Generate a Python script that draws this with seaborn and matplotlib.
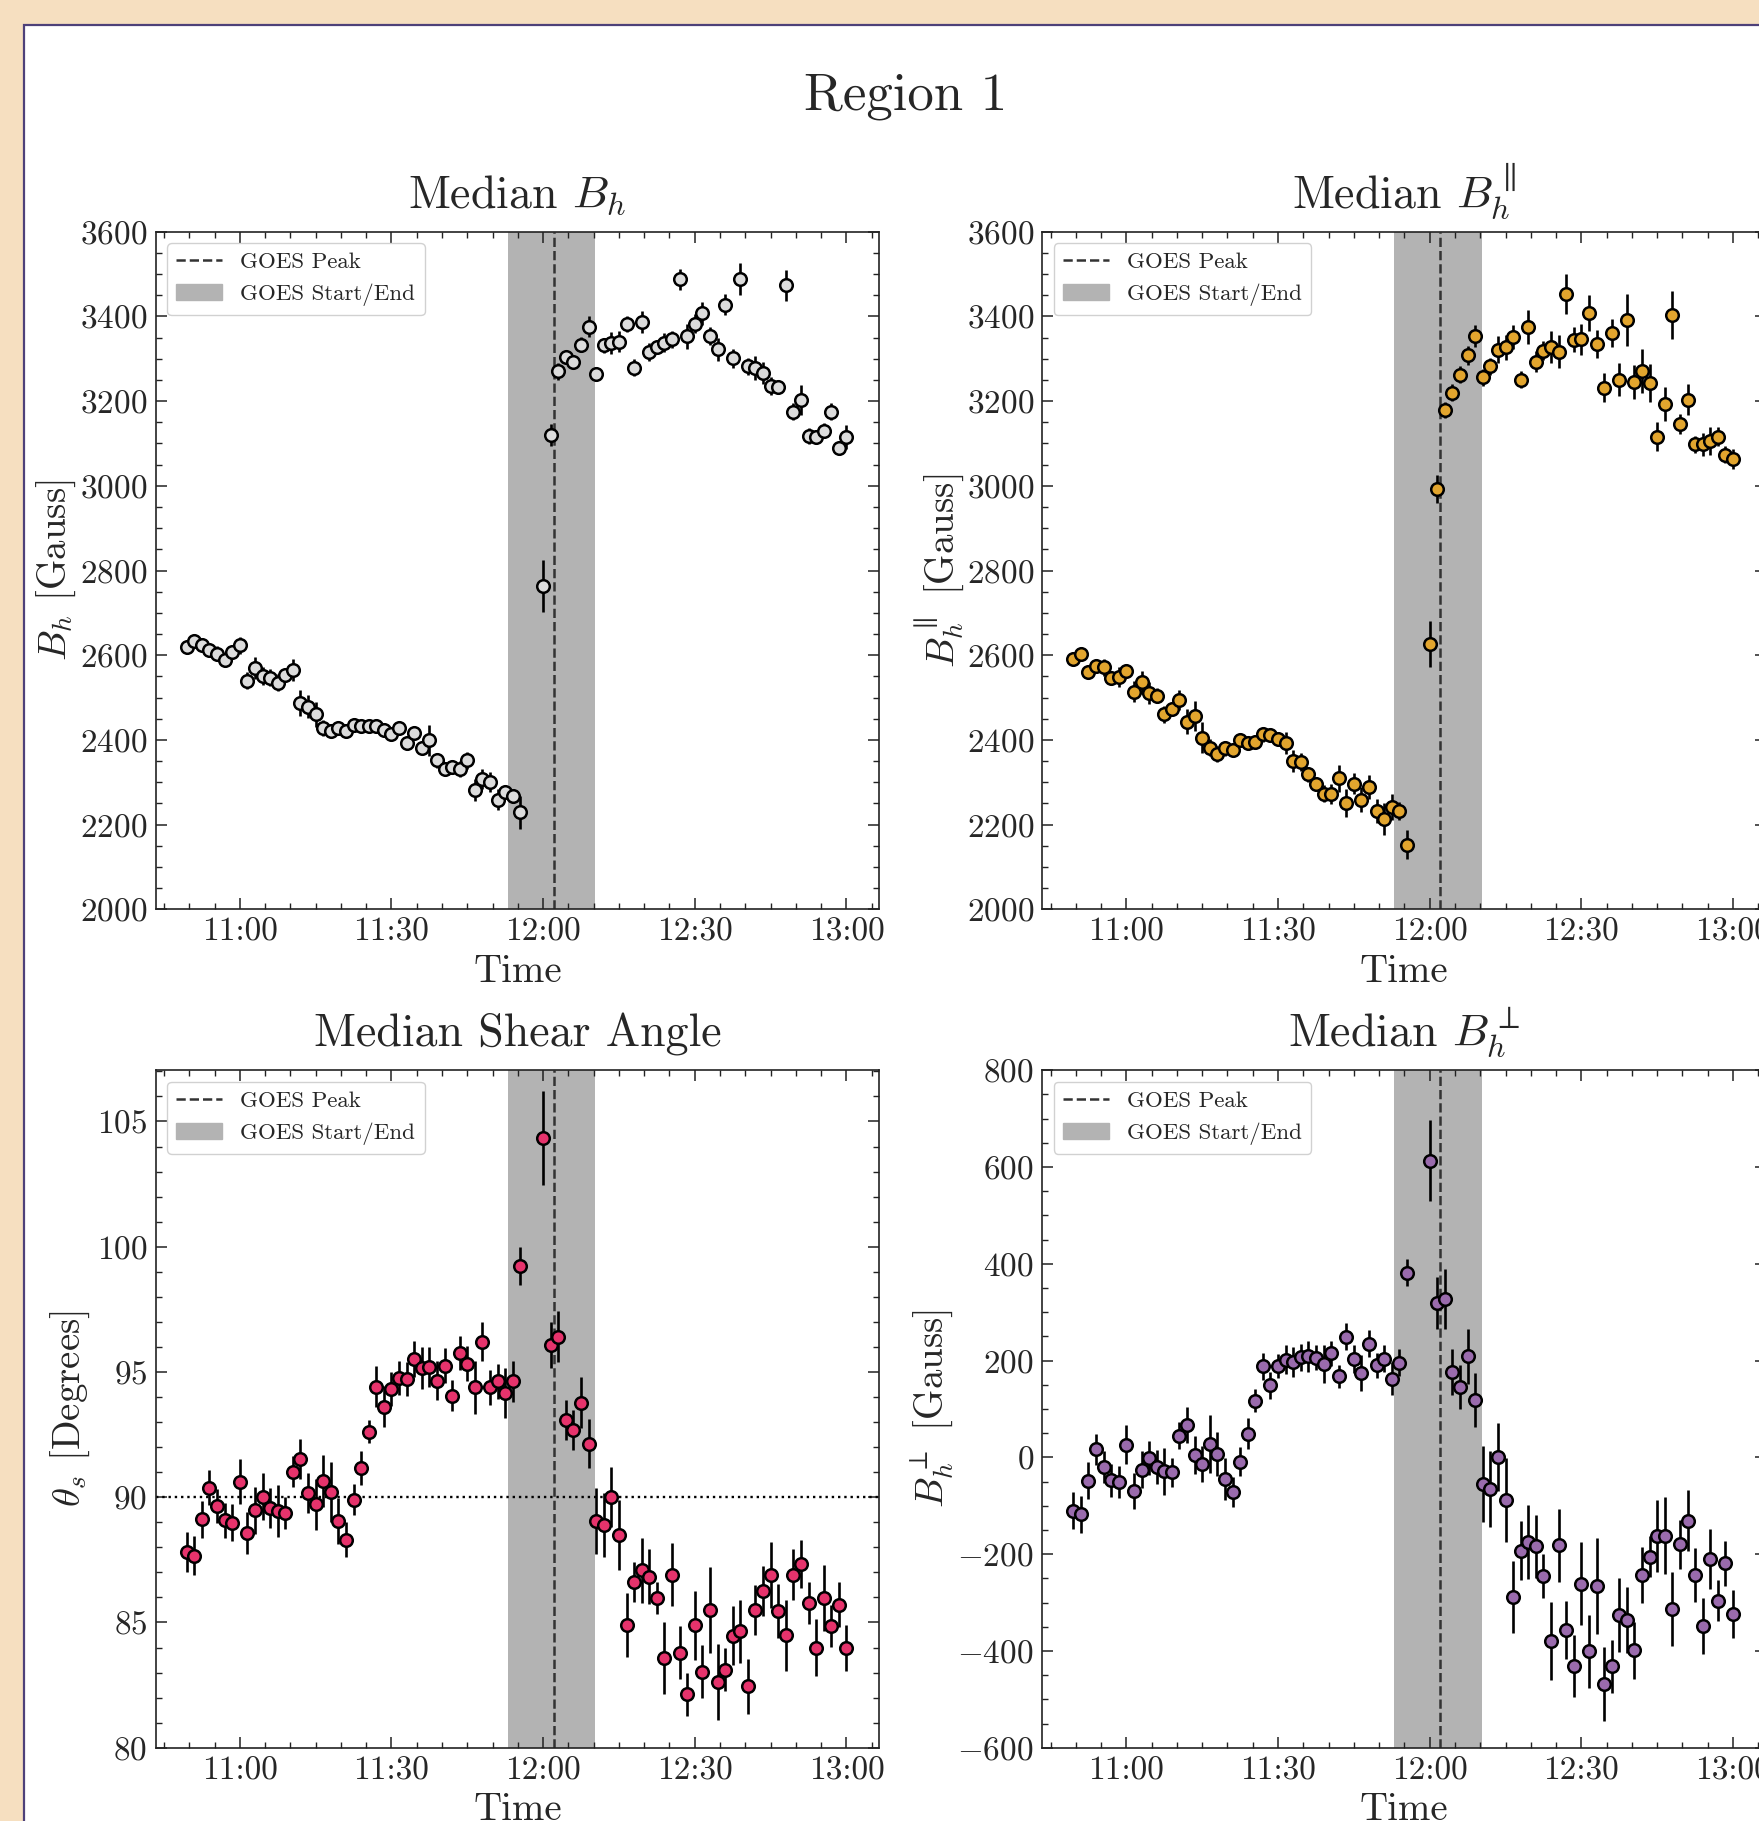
import numpy as np
import pandas as pd
import matplotlib
matplotlib.use("Agg")
import matplotlib.pyplot as plt
import matplotlib.dates as mdates
from matplotlib.patches import Rectangle, Patch
from matplotlib.lines import Line2D
from matplotlib.ticker import MultipleLocator
import seaborn as sns

# ---------------- data ----------------
times = [
    "10:49:30", "10:51:00", "10:52:30", "10:54:00", "10:55:30", "10:57:00", "10:58:30", "11:00:00",
    "11:01:30", "11:03:00", "11:04:30", "11:06:00", "11:07:30", "11:09:00", "11:10:30", "11:12:00",
    "11:13:30", "11:15:00", "11:16:30", "11:18:00", "11:19:30", "11:21:00", "11:22:30", "11:24:00",
    "11:25:30", "11:27:00", "11:28:30", "11:30:00", "11:31:30", "11:33:00", "11:34:30", "11:36:00",
    "11:37:30", "11:39:00", "11:40:30", "11:42:00", "11:43:30", "11:45:00", "11:46:30", "11:48:00",
    "11:49:30", "11:51:00", "11:52:30", "11:54:00", "11:55:30",
    "12:00:00", "12:01:30", "12:03:00", "12:04:30", "12:06:00", "12:07:30", "12:09:00", "12:10:30",
    "12:12:00", "12:13:30", "12:15:00", "12:16:30", "12:18:00", "12:19:30", "12:21:00", "12:22:30",
    "12:24:00", "12:25:30", "12:27:00", "12:28:30", "12:30:00", "12:31:30", "12:33:00", "12:34:30",
    "12:36:00", "12:37:30", "12:39:00", "12:40:30", "12:42:00", "12:43:30", "12:45:00", "12:46:30",
    "12:48:00", "12:49:30", "12:51:00", "12:52:30", "12:54:00", "12:55:30", "12:57:00", "12:58:30",
    "13:00:00",
]

bh = [2620, 2634, 2624, 2612, 2604, 2588, 2608, 2624, 2540, 2569,
      2551, 2547, 2535, 2553, 2565, 2488, 2478, 2460, 2428, 2421,
      2428, 2421, 2436, 2433, 2432, 2432, 2423, 2415, 2427, 2392,
      2417, 2382, 2399, 2352, 2332, 2336, 2331, 2352, 2281, 2308,
      2301, 2259, 2276, 2267, 2229,
      2764, 3120, 3270, 3303, 3292, 3333, 3376, 3264, 3332, 3337,
      3340, 3382, 3279, 3387, 3316, 3328, 3338, 3346, 3488, 3353,
      3383, 3407, 3354, 3322, 3428, 3301, 3488, 3282, 3279, 3266,
      3236, 3233, 3473, 3175, 3203, 3118, 3115, 3130, 3175, 3089,
      3115]
bh_err = [17, 13, 13, 14, 18, 15, 16, 20, 20, 26,
          21, 20, 20, 12, 25, 31, 27, 29, 18, 15,
          15, 15, 16, 14, 13, 14, 13, 15, 12, 15,
          15, 16, 37, 18, 16, 16, 18, 20, 26, 24,
          24, 24, 14, 17, 39,
          61, 25, 20, 14, 14, 18, 24, 16, 18, 25,
          25, 20, 20, 26, 21, 14, 23, 20, 25, 30,
          22, 28, 22, 28, 24, 22, 37, 20, 28, 26,
          22, 16, 36, 20, 36, 19, 16, 18, 20, 14,
          29]

bpar = [2592, 2604, 2561, 2574, 2571, 2545, 2549, 2563, 2514, 2536,
        2510, 2504, 2460, 2474, 2495, 2443, 2456, 2405, 2382, 2366,
        2380, 2376, 2399, 2392, 2394, 2413, 2411, 2403, 2393, 2350,
        2348, 2319, 2295, 2273, 2273, 2309, 2250, 2297, 2259, 2288,
        2232, 2213, 2242, 2232, 2153,
        2626, 2993, 3179, 3220, 3262, 3308, 3354, 3256, 3282, 3321,
        3327, 3351, 3250, 3374, 3293, 3319, 3327, 3316, 3453, 3345,
        3346, 3408, 3335, 3232, 3361, 3250, 3392, 3245, 3270, 3243,
        3116, 3193, 3404, 3146, 3203, 3098, 3098, 3106, 3116, 3073,
        3063]
bpar_err = [16, 15, 16, 16, 20, 14, 24, 15, 25, 27,
            26, 18, 20, 13, 24, 30, 35, 37, 20, 19,
            18, 16, 16, 16, 14, 18, 14, 16, 26, 25,
            22, 18, 16, 20, 24, 32, 33, 24, 29, 28,
            28, 37, 31, 22, 35,
            55, 33, 20, 20, 20, 22, 26, 20, 20, 32,
            30, 28, 20, 40, 25, 22, 38, 39, 48, 30,
            36, 42, 33, 35, 34, 39, 62, 41, 52, 45,
            34, 41, 57, 24, 37, 20, 27, 34, 22, 20,
            23]

shear = [87.82, 87.67, 89.11, 90.38, 89.65, 89.07, 88.98, 90.62, 88.57, 89.47,
         90.02, 89.58, 89.45, 89.37, 91.02, 91.52, 90.16, 89.71, 90.65, 90.21,
         89.05, 88.30, 89.89, 91.16, 92.62, 94.41, 93.62, 94.32, 94.75, 94.72,
         95.52, 95.16, 95.18, 94.65, 95.24, 94.05, 95.75, 95.32, 94.39, 96.21,
         94.39, 94.62, 94.16, 94.62, 99.23,
         104.33, 96.07, 96.40, 93.09, 92.68, 93.78, 92.14,
         89.05, 88.89, 90.02, 88.49, 84.90, 86.61, 87.09, 86.83, 85.98, 83.58,
         86.91, 83.79, 82.13, 84.88, 83.04, 85.50, 82.62, 83.12, 84.47, 84.64,
         82.45, 85.50, 86.27, 86.90, 85.44, 84.48, 86.91, 87.34, 85.78, 84.00,
         85.98, 84.86, 85.71, 83.98]
shear_err = [0.81, 0.77, 0.73, 0.71, 0.67, 0.70, 0.73, 0.90, 0.83, 0.93,
             0.93, 0.80, 1.02, 0.63, 0.63, 0.80, 0.80, 1.03, 1.03, 1.20,
             0.93, 0.70, 0.62, 0.67, 0.45, 0.82, 0.80, 0.67, 0.67, 0.67,
             0.73, 0.83, 0.80, 0.77, 0.70, 0.61, 0.69, 0.70, 1.05, 0.77,
             0.69, 0.71, 0.98, 0.83, 0.77,
             1.87, 0.93, 1.02, 0.81, 0.80, 1.00, 0.97,
             1.33, 1.27, 1.20, 1.40, 1.27, 0.80, 1.30, 1.10, 0.65, 1.45,
             1.27, 1.05, 0.87, 1.38, 1.07, 1.70, 1.50, 0.87, 1.17, 1.25,
             1.09, 1.00, 1.00, 1.33, 1.08, 1.43, 1.03, 0.95, 0.83, 1.13,
             1.32, 0.85, 0.90, 0.91]

bperp = [-110, -118, -48, 17, -20, -47, -51, 26, -69, -26,
         -2, -20, -29, -31, 45, 67, 5, -14, 28, 7,
         -45, -71, -9, 49, 117, 188, 149, 189, 202, 196,
         207, 209, 206, 193, 215, 167, 249, 203, 174, 235,
         190, 204, 162, 195, 381,
         613, 319, 328, 176, 145, 209, 119,
         -55, -66, 0, -88, -289, -193, -175, -184, -245, -379,
         -182, -357, -431, -261, -401, -266, -468, -432, -326, -336,
         -399, -243, -205, -162, -162, -314, -180, -131, -243, -348,
         -211, -296, -219, -324]
bperp_err = [39, 38, 38, 32, 34, 34, 34, 40, 37, 38,
             35, 35, 48, 30, 27, 37, 40, 38, 60, 45,
             43, 31, 30, 32, 24, 28, 28, 25, 30, 31,
             28, 32, 26, 40, 26, 23, 28, 29, 38, 28,
             26, 28, 34, 28, 28,
             84, 53, 62, 47, 45, 57, 56,
             78, 78, 70, 86, 74, 61, 76, 65, 45, 81,
             75, 60, 64, 86, 76, 100, 76, 54, 77, 68,
             59, 58, 42, 74, 79, 76, 51, 63, 55, 58,
             62, 42, 46, 50]

goes_start = "11:53:00"
goes_peak = "12:02:04"
goes_end = "12:10:15"
day = "2014-01-01 "

# ---------------- style ----------------
sns.set_style("ticks")
plt.rcParams.update({
    "font.family": "serif",
    "font.serif": ["cmr10"],
    "mathtext.fontset": "cm",
    "axes.formatter.use_mathtext": True,
    "axes.unicode_minus": True,
})

W, H = 1759, 1821
fig = plt.figure(figsize=(W / 100, H / 100), dpi=100, facecolor="#F6DFC0")
fig.patches.append(Rectangle((24 / W, -0.05), 1.2, 1 - 25 / H + 0.05,
                             transform=fig.transFigure, facecolor="white",
                             edgecolor="#4E4079", linewidth=1.6, zorder=-10))

t = pd.to_datetime([day + s for s in times])
xlim = (pd.Timestamp(day + "10:43:22"), pd.Timestamp(day + "13:06:30"))

axw, axh = 723.6 / W, 677.6 / H
panels = [
    (155.7, 909.3, bh, bh_err, "#DCDCDC", r"Median $B_h$", r"$B_h$ [Gauss]",
     (2000, 3600), 200, 50, -0.108),
    (1042.3, 909.3, bpar, bpar_err, "#E2A52E", r"Median $B_h^{\parallel}$",
     r"$B_h^{\parallel}$ [Gauss]", (2000, 3600), 200, 50, -0.106),
    (155.7, 1747.7, shear, shear_err, "#E6336C", r"Median Shear Angle",
     r"$\theta_s$ [Degrees]", (80, 107.05), 5, 1, -0.088),
    (1042.3, 1747.7, bperp, bperp_err, "#9A6BAD", r"Median $B_h^{\perp}$",
     r"$B_h^{\perp}$ [Gauss]", (-600, 800), 200, 50, -0.121),
]

spine_c = "#222222"
for i, (lx, by, vals, errs, col, title, ylab, ylim, maj, mnr, ylx) in enumerate(panels):
    ax = fig.add_axes([lx / W, 1 - by / H, axw, axh])
    df = pd.DataFrame({"time": t, "val": vals, "err": errs})

    ax.axvspan(pd.Timestamp(day + goes_start), pd.Timestamp(day + goes_end),
               color="#B3B3B3", zorder=0, lw=0)
    ax.axvline(pd.Timestamp(day + goes_peak), color="#333333", ls="--",
               lw=1.8, zorder=1)
    if i == 2:
        ax.axhline(90, color="black", ls=":", lw=1.7, zorder=1)

    ax.errorbar(df["time"], df["val"], yerr=df["err"], fmt="none",
                ecolor="black", elinewidth=1.9, capsize=0, zorder=2)
    sns.scatterplot(data=df, x="time", y="val", ax=ax, color=col,
                    edgecolor="black", linewidth=1.8, s=82, zorder=3,
                    legend=False)

    ax.set_xlim(*xlim)
    ax.set_ylim(*ylim)
    ax.xaxis.set_major_locator(mdates.MinuteLocator(byminute=[0, 30]))
    ax.xaxis.set_minor_locator(mdates.MinuteLocator(byminute=range(0, 60, 5)))
    ax.xaxis.set_major_formatter(mdates.DateFormatter("%H:%M"))
    ax.yaxis.set_major_locator(MultipleLocator(maj))
    ax.yaxis.set_minor_locator(MultipleLocator(mnr))

    ax.tick_params(which="both", direction="in", top=True, right=True,
                   color=spine_c, labelsize=24, pad=6)
    ax.tick_params(which="major", length=7.8, width=1.1)
    ax.tick_params(which="minor", length=4.4, width=1.0)
    for sp in ax.spines.values():
        sp.set_color(spine_c)
        sp.set_linewidth(1.2)

    ax.set_title(title, fontsize=33, pad=17)
    ax.set_xlabel("Time", fontsize=28)
    ax.set_ylabel(ylab, fontsize=28)
    ax.xaxis.set_label_coords(0.5, -0.066)
    ax.yaxis.set_label_coords(ylx, 0.5)

    handles = [Line2D([0], [0], color="#333333", ls="--", lw=1.8),
               Patch(facecolor="#B3B3B3", edgecolor="#B3B3B3")]
    ax.legend(handles, ["GOES Peak", "GOES Start/End"], loc="upper left",
              fontsize=16.5, frameon=True, fancybox=True, edgecolor="0.8",
              framealpha=0.9)

fig.text(905.6 / W, 1 - 109 / H, "Region 1", ha="center", va="baseline",
         fontsize=38)

fig.savefig("out.png", dpi=100, facecolor=fig.get_facecolor())
